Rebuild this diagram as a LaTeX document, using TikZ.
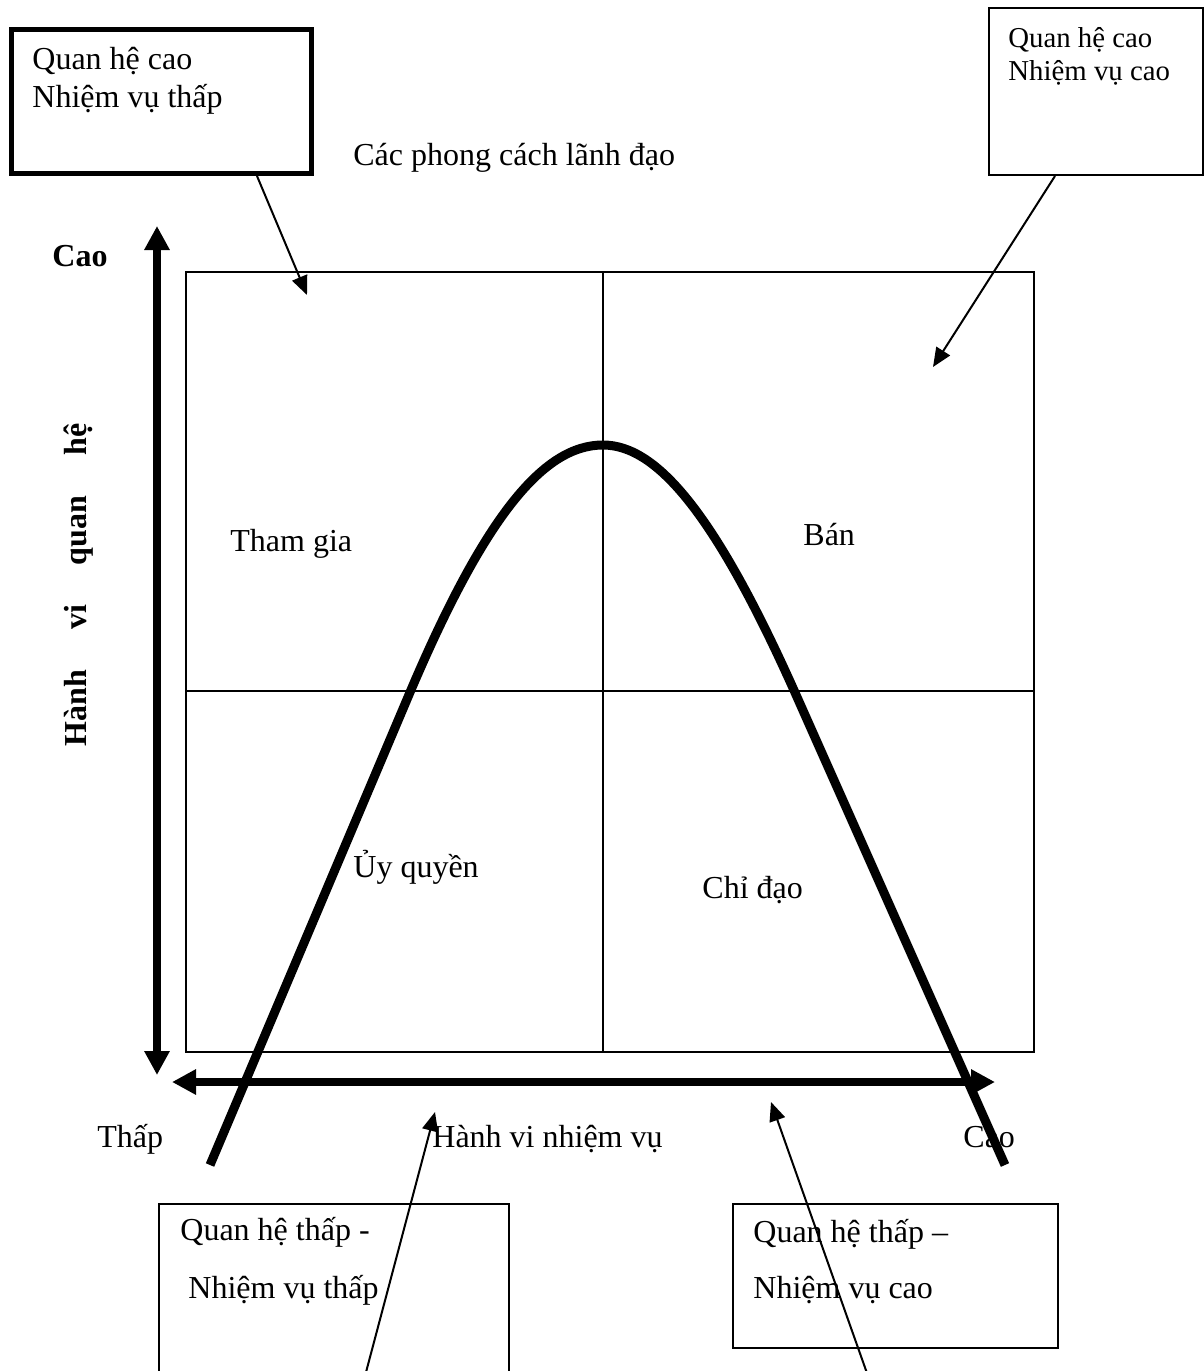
\documentclass[tikz,border=0pt]{standalone}
\usepackage{fontspec}
\setmainfont{Liberation Serif}
\usetikzlibrary{arrows.meta}
\begin{document}
\begin{tikzpicture}[x=0.5pt,y=-0.5pt,
  every node/.style={font=\fontsize{16pt}{19pt}\selectfont, inner sep=0pt},
  txt/.style={anchor=base west},
  smalltxt/.style={anchor=base west, font=\fontsize{14.4pt}{17pt}\selectfont},
  boxthin/.style={draw, line width=1pt, anchor=north west},
  boxthick/.style={draw, line width=2.5pt, anchor=north west},
  pointer/.style={line width=1pt, -{Triangle[length=9.5pt,width=8pt]}},
  axisline/.style={line width=4pt, {Triangle[length=12pt,width=12pt]}-{Triangle[length=12pt,width=12pt]}},
  bell/.style={line width=4.5pt},
  gridline/.style={line width=1pt}]
\useasboundingbox (0,0) rectangle (1204,1371);

% boxes
\node[boxthick, minimum width=150pt, minimum height=72pt] (bTL) at (9,27) {};
\node[boxthin, minimum width=107pt, minimum height=83.5pt] (bTR) at (988,7) {};
\node[boxthin, minimum width=175pt, minimum height=90pt] (bBL) at (158,1203) {};
\node[boxthin, minimum width=162.5pt, minimum height=72pt] (bBR) at (732,1203) {};

% main square (185,271)-(1033,1051), dividers at x=603 and y=691
\node[draw, line width=1pt, anchor=north west, minimum width=424pt, minimum height=390pt] (sq) at (185,271) {};
\draw[gridline] ([xshift=209pt]sq.north west) -- ([xshift=209pt]sq.south west);
\draw[gridline] ([yshift=-210pt]sq.north west) -- ([yshift=-210pt]sq.north east);

% axes
\coordinate (vtop) at (157,226);
\coordinate (vbot) at (157,1075);
\coordinate (hleft) at (172,1082);
\coordinate (hright) at (995,1082);
\draw[axisline] (vbot) -- (vtop);
\draw[axisline] (hleft) -- (hright);

% bell curve
\draw[bell] (210,1165) -- (408,697) .. controls (484,517) and (543,445) .. (603,445)
  .. controls (658,445) and (717,517) .. (797,697) -- (1005,1165);

% pointer targets
\coordinate (pTL) at (307,295);
\coordinate (pTR) at (933,367);
\coordinate (pBLs) at (365,1376);
\coordinate (pBL) at (435,1112);
\coordinate (pBRs) at (868,1376);
\coordinate (pBR) at (771,1102);
\draw[pointer] ([xshift=124pt]bTL.south west) -- (pTL);
\draw[pointer] ([xshift=33.5pt]bTR.south west) -- (pTR);
\draw[pointer] (pBLs) -- (pBL);
\draw[pointer] (pBRs) -- (pBR);

% texts
\node[txt] (tTL1) at (32,69) {Quan hệ cao};
\node[txt] (tTL2) at (32,107) {Nhiệm vụ thấp};
\node[smalltxt] (tTR1) at (1008,47) {Quan hệ cao};
\node[smalltxt] (tTR2) at (1008,80) {Nhiệm vụ cao};
\node[txt] (title) at (353,165) {Các phong cách lãnh đạo};
\node[txt, font=\fontsize{16pt}{19pt}\selectfont\bfseries] (cao1) at (52,266) {Cao};
\node[anchor=base, rotate=90, font=\fontsize{16pt}{19pt}\selectfont\bfseries] (ylab) at (86,585) {Hành\hspace{20pt}vi\hspace{20pt}quan\hspace{20pt}hệ};
\node[txt] (q1) at (230,551) {Tham gia};
\node[txt] (q2) at (803,545) {Bán};
\node[txt] (q3) at (353,877) {Ủy quyền};
\node[txt] (q4) at (702,898) {Chỉ đạo};
\node[txt] (xlow) at (97,1147) {Thấp};
\node[txt] (xlab) at (432,1147) {Hành vi nhiệm vụ};
\node[txt] (xhigh) at (963,1147) {Cao};
\node[txt] (tBL1) at (180,1240) {Quan hệ thấp -};
\node[txt] (tBL2) at (188,1298) {Nhiệm vụ thấp};
\node[txt] (tBR1) at (753,1242) {Quan hệ thấp –};
\node[txt] (tBR2) at (753,1298) {Nhiệm vụ cao};
\end{tikzpicture}
\end{document}
